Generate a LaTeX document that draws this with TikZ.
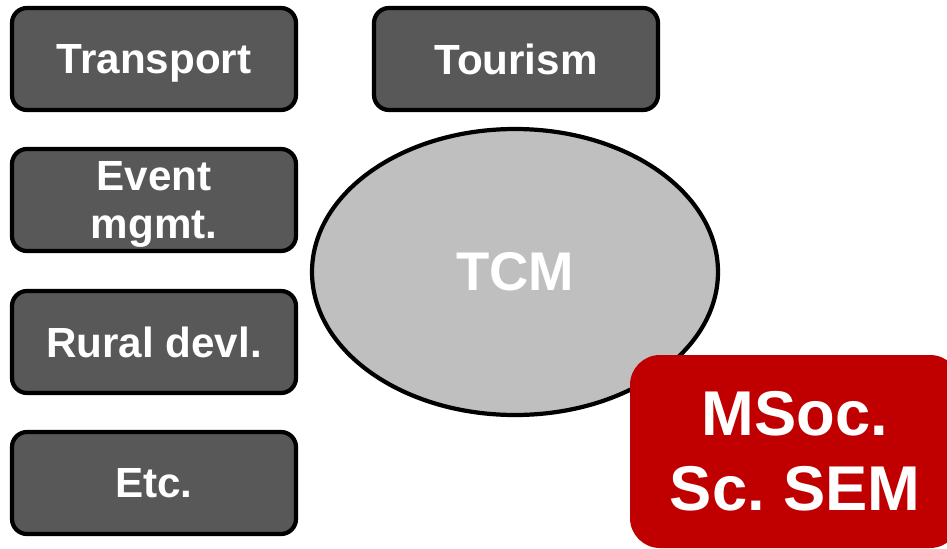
\documentclass[tikz,border=0pt]{standalone}
\usepackage{fontspec}
\setmainfont{Liberation Sans}
\usetikzlibrary{shapes.geometric}
\definecolor{boxgray}{HTML}{585858}
\definecolor{tcmgray}{HTML}{BFBFBF}
\definecolor{semred}{HTML}{C00000}
\begin{document}
\begin{tikzpicture}[
  field/.style={rectangle, rounded corners=0.15cm, draw=black, line width=1.2pt, fill=boxgray,
    minimum width=2.84cm, minimum height=1.02cm, inner sep=0pt, text=white, align=center,
    text depth=0pt, font=\fontsize{12}{13.7}\selectfont\bfseries},
  core/.style={ellipse, draw=black, line width=1.2pt, fill=tcmgray, minimum width=4.06cm,
    minimum height=2.86cm, inner sep=0pt, text=white, font=\fontsize{15.5}{18}\selectfont\bfseries},
  degree/.style={rectangle, rounded corners=0.3cm, fill=semred, minimum width=3.3cm,
    minimum height=1.93cm, inner sep=0pt, text=white, align=center,
    font=\fontsize{18}{21.3}\selectfont\bfseries}]
\useasboundingbox (0,0) rectangle (9.47,5.48);
\node[field] (transport) at (1.54,4.89) {Transport};
\node[field] (tourism) at (5.16,4.89) {Tourism};
\node[field] (event) at (1.54,3.48) {Event\\mgmt.};
\node[field] (rural) at (1.54,2.06) {Rural devl.};
\node[field] (etc) at (1.54,0.65) {Etc.};
\node[core] (tcm) at (5.15,2.76) {TCM};
\node[degree] (msoc) at (7.95,0.965) {MSoc.\\Sc.\hspace{-1.5pt} SEM};
\end{tikzpicture}
\end{document}
